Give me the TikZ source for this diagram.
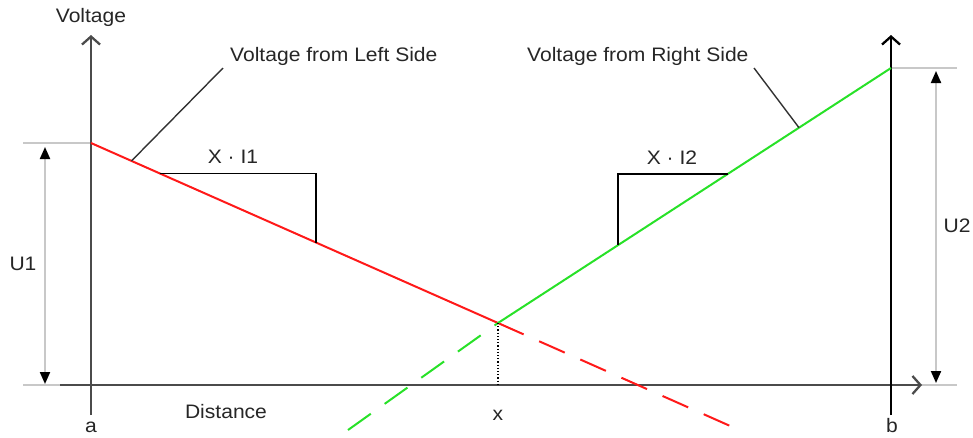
\documentclass[tikz,border=0pt]{standalone}
\usepackage{fontspec}
\setmainfont{Liberation Sans}[FakeStretch=1.08]
\usetikzlibrary{arrows.meta}
\definecolor{axisgray}{RGB}{75,75,75}
\definecolor{dimgray}{RGB}{200,200,200}
\definecolor{vred}{RGB}{255,25,25}
\definecolor{vgreen}{RGB}{40,225,40}
\definecolor{leadgray}{RGB}{50,50,50}
\begin{document}
\begin{tikzpicture}[x=1pt,y=-1pt,
  lbl/.style={font=\fontsize{19.5}{22}\selectfont, inner sep=0pt, anchor=base, text=black!85},
  axisline/.style={line width=2.3pt, -{Straight Barb[length=8pt,width=18pt]}},
  dimline/.style={dimgray, line width=2pt, {Triangle[length=12pt,width=10pt,black]}-{Triangle[length=12pt,width=10pt,black]}},
  extline/.style={dimgray, line width=1.6pt},
  redline/.style={vred, line width=2pt},
  greenline/.style={vgreen, line width=2pt},
  dashpat/.style={dash pattern=on 28pt off 17pt},
  leader/.style={leadgray, line width=1.4pt},
  slope/.style={black, line width=1.6pt}]
\useasboundingbox (0,0) rectangle (973,437);

% key coordinates
\coordinate (A) at (91,143);
\coordinate (B) at (891,68);
\coordinate (X) at (498,323);
\coordinate (Rend) at (737,429);
\coordinate (Gend) at (348,430);
\coordinate (Xfoot) at (498,385);

% dimension U1
\coordinate (u1t) at (23,143);
\coordinate (u1b) at (23,385);
\coordinate (u1be) at (60,385);
\coordinate (d1t) at (45,147);
\coordinate (d1b) at (45,384);
\draw[extline] (u1t) -- (A);
\draw[extline] (u1b) -- (u1be);
\draw[dimline] (d1t) -- (d1b);

% dimension U2
\coordinate (u2t) at (957,68);
\coordinate (u2bs) at (910,385);
\coordinate (u2b) at (957,385);
\coordinate (d2t) at (936,71);
\coordinate (d2b) at (936,383);
\draw[extline] (B) -- (u2t);
\draw[extline] (u2bs) -- (u2b);
\draw[dimline] (d2t) -- (d2b);

% axes
\coordinate (hax0) at (60,385);
\coordinate (hax1) at (922,385);
\coordinate (lax0) at (91,415);
\coordinate (lax1) at (91,35);
\coordinate (rax0) at (891,415);
\coordinate (rax1) at (891,35);
\draw[axisline, axisgray] (hax0) -- (hax1);
\draw[axisline, axisgray] (lax0) -- (lax1);
\draw[axisline, black] (rax0) -- (rax1);

% voltage lines
\draw[redline] (A) -- (X);
\draw[redline, dashpat] (X) -- (Rend);
\draw[greenline] (B) -- (X);
\draw[greenline, dashpat] (Gend) -- (X);

% dotted drop
\draw[black, line width=1.2pt, dotted] (X) -- (Xfoot);

% slope triangles
\coordinate (t1a) at (159.5,173.3);
\coordinate (t1b) at (316,173.3);
\coordinate (t1c) at (316,242.6);
\draw[slope] (t1a) -- (t1b) -- (t1c);
\coordinate (t2a) at (727.6,174);
\coordinate (t2b) at (618,174);
\coordinate (t2c) at (618,245.1);
\draw[slope] (t2a) -- (t2b) -- (t2c);

% leaders
\coordinate (l1a) at (131.5,160.9);
\coordinate (l1b) at (223,68);
\draw[leader] (l1a) -- (l1b);
\coordinate (l2a) at (754,68);
\coordinate (l2b) at (799,127.7);
\draw[leader] (l2a) -- (l2b);

% labels
\node[lbl] (vlab) at (91,22.3) {Voltage};
\node[lbl, anchor=base west] (lleft) at (230,61) {Voltage from Left Side};
\node[lbl, anchor=base west] (lright) at (527,61.5) {Voltage from Right Side};
\node[lbl] (xi1) at (233,163.3) {X · I1};
\node[lbl] (xi2) at (672,164) {X · I2};
\node[lbl] (dist) at (226,418) {Distance};
\node[lbl] (la) at (91,432) {a};
\node[lbl] (lb) at (892,432) {b};
\node[lbl] (lx) at (498,420) {x};
\node[lbl] (lu1) at (23,270) {U1};
\node[lbl] (lu2) at (957,232) {U2};
\end{tikzpicture}
\end{document}
